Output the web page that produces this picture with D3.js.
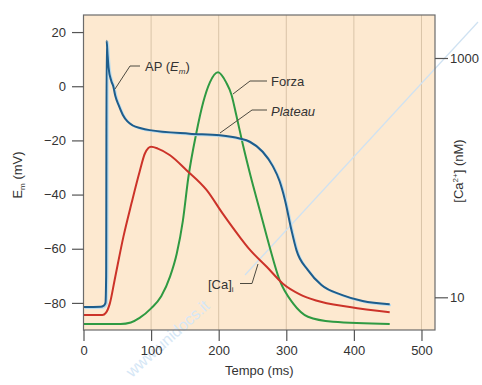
<!DOCTYPE html>
<html>
<head>
<meta charset="utf-8">
<script src="https://cdn.jsdelivr.net/npm/d3@7"></script>
<style>
  body { margin: 0; background: #fff; }
  text { font-family: "Liberation Sans", Arial, sans-serif; }
</style>
</head>
<body>
<div id="chart"></div>
<script>
// time axis ticks (ms) and left/right axis ticks
const timeTicks = [0, 100, 200, 300, 400, 500];
const emTicks = [20, 0, -20, -40, -60, -80];
const caTicks = [10, 1000];

// AP (membrane potential, mV)
const apTime = [0, 25, 30, 32.5, 33.5, 34.2, 35.5, 37, 41, 44, 47, 52, 58, 65, 73, 85, 98, 157, 202, 231, 246, 265, 280, 290, 298, 307.5, 315, 332, 352, 383, 413, 453];
const apValue = [-81.5, -81.4, -81, -80, -70, 16.8, 12, 7, 2, 0, -3.5, -7, -10.5, -13, -14.5, -15.5, -16.2, -17.5, -18.1, -19.3, -20.5, -24.2, -29.5, -35, -42, -53, -60.5, -67.9, -73.4, -77.1, -79.3, -80.5];

// intracellular calcium (nM, right log axis)
const caTime = [0, 28, 33, 39, 46, 59, 71, 83, 91, 100, 110, 128, 152, 182, 206, 231, 246, 271, 295, 320, 344, 394, 453];
const caValue = [7.1, 7.1, 7.4, 8.9, 13.9, 32, 61, 112, 160, 181, 175, 154, 116, 79, 50, 32, 25, 18, 13, 10.6, 9.4, 8.3, 7.5];

// force (arbitrary %, no axis)
const forceTime = [0, 55, 70, 83, 100, 115, 128, 138, 147, 155, 167, 177, 187, 199, 211, 219, 226, 236, 247, 261, 275, 290, 310, 332, 369, 453];
const forceValue = [0, 0, 0.6, 2.4, 6.2, 11, 18.8, 28, 41, 58, 76, 88, 96, 100, 96, 91, 83, 71, 59, 45, 31, 17.5, 8.2, 2.9, 0.9, 0];

const W = 482, H = 385;
const margin = { top: 15, right: 47, bottom: 55, left: 83.5 };

const svg = d3.select('#chart').append('svg')
  .attr('width', W)
  .attr('height', H);

const x = d3.scaleLinear().domain([0, 520]).range([margin.left, W - margin.right]);
const yEm = d3.scaleLinear().domain([-90, 26.3]).range([H - margin.bottom, margin.top]);
const yCa = d3.scaleLog().domain([10, 1000]).range([297.3, 58]);
const yForce = d3.scaleLinear().domain([0, 100]).range([324, 72.3]);

const textColor = '#333';
const tickColor = '#555';

// plot background
svg.append('rect')
  .attr('x', margin.left)
  .attr('y', margin.top)
  .attr('width', W - margin.right - margin.left)
  .attr('height', H - margin.bottom - margin.top)
  .attr('fill', '#fde9d0');

// vertical grid lines
svg.append('g')
  .selectAll('line')
  .data(timeTicks.filter(d => d > 0))
  .join('line')
  .attr('x1', d => x(d))
  .attr('x2', d => x(d))
  .attr('y1', margin.top)
  .attr('y2', H - margin.bottom)
  .attr('stroke', '#d9c4a8')
  .attr('stroke-width', 1);

// watermark
svg.append('line')
  .attr('x1', 245).attr('y1', 275)
  .attr('x2', 478).attr('y2', 22)
  .attr('stroke', '#cfe2f2')
  .attr('stroke-width', 1.2);
svg.append('text')
  .attr('transform', 'translate(132,378) rotate(-42)')
  .style('font-size', '16px')
  .style('fill', '#d6e7f6')
  .text('www.unidocs.it');

// curves
const lineFn = (xs, ys, yScale) => d3.line()
  .x((d, i) => x(xs[i]))
  .y(d => yScale(d))
  .curve(d3.curveMonotoneX)(ys);

svg.append('path')
  .attr('d', lineFn(forceTime, forceValue, yForce))
  .attr('fill', 'none')
  .attr('stroke', '#2f9a42')
  .attr('stroke-width', 2);

svg.append('path')
  .attr('d', lineFn(caTime, caValue, yCa))
  .attr('fill', 'none')
  .attr('stroke', '#cc3329')
  .attr('stroke-width', 2);

// light halo beside the AP line
svg.append('path')
  .attr('d', lineFn(apTime, apValue, yEm))
  .attr('transform', 'translate(1.3,1)')
  .attr('fill', 'none')
  .attr('stroke', '#b9dcef')
  .attr('stroke-width', 2);

svg.append('path')
  .attr('d', lineFn(apTime, apValue, yEm))
  .attr('fill', 'none')
  .attr('stroke', '#1e5d8c')
  .attr('stroke-width', 2);

// frame
svg.append('rect')
  .attr('x', margin.left)
  .attr('y', margin.top)
  .attr('width', W - margin.right - margin.left)
  .attr('height', H - margin.bottom - margin.top)
  .attr('fill', 'none')
  .attr('stroke', '#6b6b6b')
  .attr('stroke-width', 1.2);

// axes
const styleAxis = g => {
  g.select('.domain').remove();
  g.selectAll('.tick line').attr('stroke', tickColor).attr('stroke-width', 1.2);
  g.selectAll('.tick text')
    .style('font-size', '13px')
    .style('fill', textColor);
};

svg.append('g')
  .attr('transform', `translate(${margin.left},0)`)
  .call(d3.axisLeft(yEm).tickValues(emTicks).tickSize(11.5).tickPadding(6).tickFormat(d3.format('d')))
  .call(styleAxis);

svg.append('g')
  .attr('transform', `translate(0,${H - margin.bottom})`)
  .call(d3.axisBottom(x).tickValues(timeTicks).tickSize(11).tickPadding(5).tickFormat(d3.format('d')))
  .call(styleAxis);

svg.append('g')
  .attr('transform', `translate(${W - margin.right},0)`)
  .call(d3.axisRight(yCa).tickValues(caTicks).tickSize(13).tickPadding(2).tickFormat(d3.format('d')))
  .call(styleAxis);

// axis titles
svg.append('text')
  .attr('x', (margin.left + W - margin.right) / 2)
  .attr('y', 375)
  .attr('text-anchor', 'middle')
  .style('font-size', '13px')
  .style('fill', textColor)
  .text('Tempo (ms)');

const emTitle = svg.append('text')
  .attr('transform', 'translate(22,175) rotate(-90)')
  .attr('text-anchor', 'middle')
  .style('font-size', '13px')
  .style('fill', textColor);
emTitle.append('tspan').text('E');
emTitle.append('tspan').attr('dy', 3).style('font-size', '8px').text('m');
emTitle.append('tspan').attr('dy', -3).text(' (mV)');

const caTitle = svg.append('text')
  .attr('transform', 'translate(463,171) rotate(-90)')
  .attr('text-anchor', 'middle')
  .style('font-size', '13px')
  .style('fill', textColor);
caTitle.append('tspan').text('[Ca');
caTitle.append('tspan').attr('dy', -5).style('font-size', '8px').text('2+');
caTitle.append('tspan').attr('dy', 5).text('] (nM)');

// curve labels with leader lines
const leaderColor = '#4d4a40';
const leaders = [
  [[140, 66], [130, 66], [115, 89]],
  [[267, 81], [250, 81], [233, 94]],
  [[267, 110], [252, 110], [220, 133]],
  [[240, 283.5], [252, 283.5], [258, 264]]
];
leaders.forEach(pts => {
  svg.append('path')
    .attr('d', d3.line()(pts))
    .attr('fill', 'none')
    .attr('stroke', leaderColor)
    .attr('stroke-width', 1);
});

const apLabel = svg.append('text')
  .attr('x', 145).attr('y', 71)
  .style('font-size', '13px')
  .style('fill', textColor);
apLabel.append('tspan').text('AP (');
apLabel.append('tspan').style('font-style', 'italic').text('E');
apLabel.append('tspan').attr('dy', 3).style('font-size', '8px').style('font-style', 'italic').text('m');
apLabel.append('tspan').attr('dy', -3).text(')');

svg.append('text')
  .attr('x', 271).attr('y', 86)
  .style('font-size', '13px')
  .style('fill', textColor)
  .text('Forza');

svg.append('text')
  .attr('x', 271).attr('y', 116)
  .style('font-size', '13px')
  .style('font-style', 'italic')
  .style('fill', textColor)
  .text('Plateau');

const caLabel = svg.append('text')
  .attr('x', 208).attr('y', 289)
  .style('font-size', '13px')
  .style('fill', textColor);
caLabel.append('tspan').text('[Ca]');
caLabel.append('tspan').attr('dy', 3).style('font-size', '8px').text('i');
</script>
</body>
</html>
